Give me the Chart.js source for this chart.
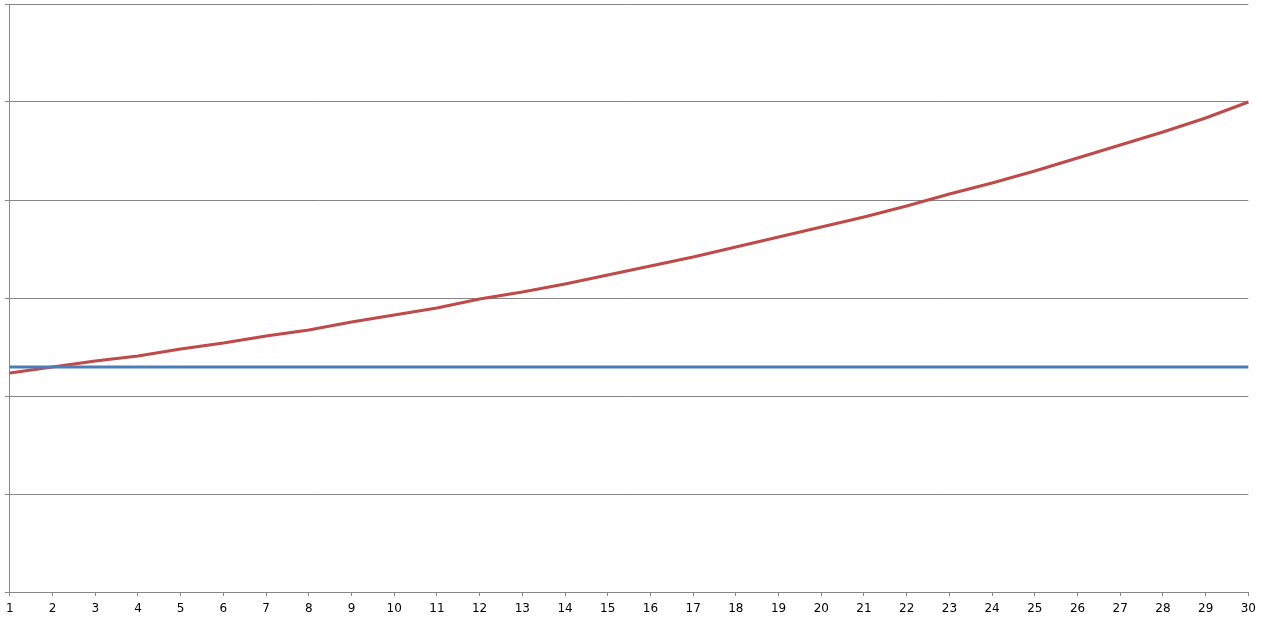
<!DOCTYPE html>
<html>
<head>
<meta charset="utf-8">
<script src="https://cdn.jsdelivr.net/npm/chart.js@4"></script>
<style>
  html, body { margin: 0; padding: 0; background: #fff; }
  #wrap { width: 1262px; height: 622px; }
</style>
</head>
<body>
<div id="wrap"><canvas id="grafica"></canvas></div>
<script>
// categorias del eje x
const etiquetas = [];
for (let i = 1; i <= 30; i++) etiquetas.push(String(i));

// serie azul (constante)
const serieAzul = [2.296, 2.296, 2.296, 2.296, 2.296, 2.296, 2.296, 2.296, 2.296, 2.296,
  2.296, 2.296, 2.296, 2.296, 2.296, 2.296, 2.296, 2.296, 2.296, 2.296,
  2.296, 2.296, 2.296, 2.296, 2.296, 2.296, 2.296, 2.296, 2.296, 2.296];

// serie roja (creciente)
const serieRoja = [2.235, 2.296, 2.357, 2.408, 2.480, 2.541, 2.612, 2.673, 2.755, 2.827,
  2.898, 2.990, 3.061, 3.143, 3.235, 3.327, 3.418, 3.520, 3.622, 3.724,
  3.827, 3.939, 4.061, 4.173, 4.296, 4.429, 4.561, 4.694, 4.837, 5.000];

// limites del eje y
const yMin = 0;
const yMax = 6;
const yPaso = 1;

const gris = '#868686';

new Chart(document.getElementById('grafica'), {
  type: 'line',
  data: {
    labels: etiquetas,
    datasets: [
      {
        label: 'Serie 1',
        data: serieAzul,
        borderColor: '#4a7ebb',
        borderWidth: 3,
        pointRadius: 0,
        tension: 0
      },
      {
        label: 'Serie 2',
        data: serieRoja,
        borderColor: '#be4b48',
        borderWidth: 3,
        pointRadius: 0,
        tension: 0
      }
    ]
  },
  options: {
    responsive: true,
    maintainAspectRatio: false,
    animation: false,
    layout: { padding: { left: 4, top: 4, right: 12, bottom: 0 } },
    plugins: {
      legend: { display: false },
      tooltip: { enabled: false }
    },
    scales: {
      x: {
        offset: false,
        afterFit: (eje) => { eje.height = 30; },
        border: { color: gris, width: 1 },
        grid: { drawOnChartArea: false, drawTicks: true, tickLength: 4, color: gris },
        ticks: {
          color: '#000',
          padding: 6,
          maxRotation: 0,
          autoSkip: false,
          font: { family: 'DejaVu Sans', size: 12 }
        }
      },
      y: {
        min: yMin,
        max: yMax,
        afterFit: (eje) => { eje.width = 5; },
        border: { color: gris, width: 1 },
        grid: { color: gris, tickLength: 5, drawTicks: true },
        ticks: { display: false, stepSize: yPaso }
      }
    }
  }
});
</script>
</body>
</html>
